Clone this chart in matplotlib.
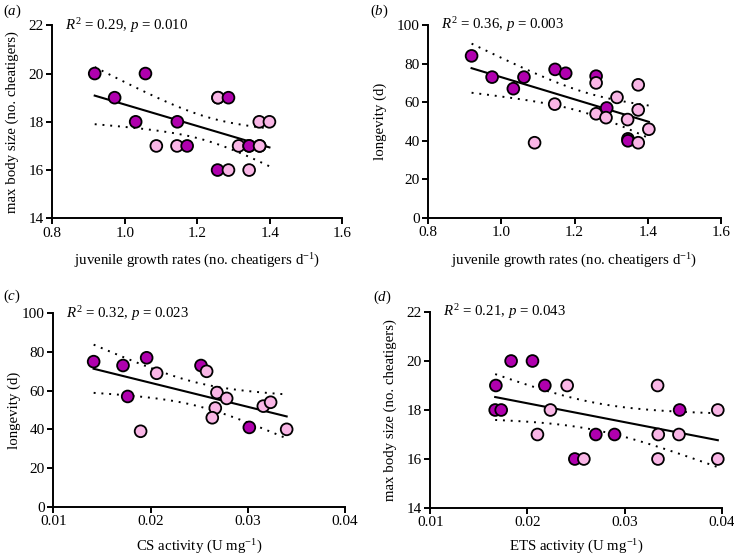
import numpy as np
import matplotlib
matplotlib.use("Agg")
import matplotlib.pyplot as plt

plt.rcParams['font.family'] = ['Liberation Serif', 'DejaVu Serif']
plt.rcParams['mathtext.fontset'] = 'custom'
plt.rcParams['mathtext.rm'] = 'Liberation Serif'
plt.rcParams['mathtext.it'] = 'Liberation Serif:italic'

DARK = '#B000AE'
LIGHT = '#F9B6E6'

# ---- data (1 = dark group, 0 = light group) ----
# (a) juvenile growth rate vs max body size
a_x = [0.917, 0.972, 1.030, 1.057, 1.087, 1.145, 1.144, 1.172, 1.257, 1.257, 1.286,
       1.256, 1.286, 1.314, 1.343, 1.343, 1.372, 1.372, 1.343, 1.371, 1.399]
a_y = [20, 19, 18, 20, 17, 18, 17, 17, 19, 19, 19,
       16, 16, 17, 17, 17, 17, 17, 16, 18, 18]
a_g = [1, 1, 1, 1, 0, 1, 0, 1, 0, 0, 1,
       1, 0, 0, 1, 1, 0, 0, 0, 0, 0]

# (b) juvenile growth rate vs longevity
b_x = [0.919, 0.975, 1.033, 1.062, 1.091, 1.147, 1.146, 1.176, 1.259, 1.259, 1.259,
       1.288, 1.286, 1.316, 1.345, 1.346, 1.346, 1.374, 1.374, 1.374, 1.403]
b_y = [84, 73, 67, 73, 39, 77, 59, 75, 73.5, 70, 54,
       57, 52, 62.5, 51, 41, 40, 69, 56, 39, 46]
b_g = [1, 1, 1, 1, 0, 1, 0, 1, 1, 0, 0,
       1, 0, 0, 0, 1, 1, 0, 0, 0, 0]

# (c) CS activity vs longevity
c_x = [0.01415, 0.01717, 0.01765, 0.0196, 0.01898, 0.02063, 0.02519, 0.02577,
       0.02683, 0.02783, 0.02666, 0.02635, 0.03016, 0.0316, 0.03235, 0.0340]
c_y = [75, 73, 57, 77, 39, 69, 73, 70, 59, 56, 51, 46, 41, 52, 54, 40]
c_g = [1, 1, 1, 1, 0, 0, 1, 0, 0, 0, 0, 0, 1, 0, 0, 0]

# (d) ETS activity vs max body size
d_x = [0.01675, 0.01668, 0.0173, 0.01832, 0.02052, 0.02179, 0.02103, 0.02237,
       0.02409, 0.02488, 0.02581, 0.02704, 0.02897, 0.0334, 0.03347, 0.03344,
       0.03567, 0.0356, 0.0396, 0.0396]
d_y = [19, 18, 18, 20, 20, 19, 17, 18, 19, 16, 16, 17, 17, 19, 17, 16, 18, 17, 18, 16]
d_g = [1, 1, 1, 1, 1, 1, 0, 0, 0, 1, 0, 1, 1, 0, 0, 0, 1, 0, 0, 0]

stats = ['$R^2$ = 0.29, $p$ = 0.010', '$R^2$ = 0.36, $p$ = 0.003',
         '$R^2$ = 0.32, $p$ = 0.023', '$R^2$ = 0.21, $p$ = 0.043']
panel_labels = ['($a$)', '($b$)', '($c$)', '($d$)']
xlabels = ['juvenile growth rates (no. cheatigers d$^{-1}$)',
           'juvenile growth rates (no. cheatigers d$^{-1}$)',
           'CS activity (U mg$^{-1}$)', 'ETS activity (U mg$^{-1}$)']
ylabels = ['max body size (no. cheatigers)', 'longevity (d)',
           'longevity (d)', 'max body size (no. cheatigers)']
xticks_g = [0.8, 1.0, 1.2, 1.4, 1.6]
xticks_e = [0.01, 0.02, 0.03, 0.04]
yticks_size = [14, 16, 18, 20, 22]
yticks_long = [0, 20, 40, 60, 80, 100]

T_CRIT = {14: 2.145, 18: 2.101, 19: 2.093, 20: 2.086}

W, H = 734, 555
fig = plt.figure(figsize=(W / 100, H / 100), dpi=100)

# axes boxes in pixels: left, right, top, bottom
boxes = [(52.3, 342.3, 25.3, 218.3), (428, 721, 25, 218),
         (53.3, 345, 313.3, 506.7), (430.3, 721.7, 312, 508)]
panel_pos = [(3, 11), (370, 11), (3, 296), (373, 297)]
ylab_x = [12, 380, 14, 390]      # pixel x of y-label centre
xlab_y = [261, 261, 547, 547]    # pixel y of x-label centre

datasets = [(a_x, a_y, a_g, xticks_g, yticks_size, '%.1f'),
            (b_x, b_y, b_g, xticks_g, yticks_long, '%.1f'),
            (c_x, c_y, c_g, xticks_e, yticks_long, '%.2f'),
            (d_x, d_y, d_g, xticks_e, yticks_size, '%.2f')]

FS_TICK = 11
FS_LAB = 10.7

for i, (xs, ys, gs, xt, yt, fmt) in enumerate(datasets):
    l, r, t_, b = boxes[i]
    ax = fig.add_axes([l / W, 1 - b / H, (r - l) / W, (b - t_) / H])
    x = np.array(xs, float); y = np.array(ys, float); g = np.array(gs)
    n = len(x)
    slope, icpt = np.polyfit(x, y, 1)
    xx = np.linspace(x.min(), x.max(), 100)
    yy = icpt + slope * xx
    resid = y - (icpt + slope * x)
    s = np.sqrt(np.sum(resid ** 2) / (n - 2))
    sxx = np.sum((x - x.mean()) ** 2)
    t = T_CRIT.get(n - 2, 2.1)
    hw = t * s * np.sqrt(1 / n + (xx - x.mean()) ** 2 / sxx)
    ax.plot(xx, yy, color='black', lw=1.5, zorder=2)
    ax.plot(xx, yy + hw, color='black', lw=1.4, ls=(0, (1, 3)), zorder=2)
    ax.plot(xx, yy - hw, color='black', lw=1.4, ls=(0, (1, 3)), zorder=2)
    cols = [DARK if v else LIGHT for v in g]
    ax.scatter(x, y, s=72, c=cols, edgecolors='black', linewidths=1.3,
               zorder=3, clip_on=False)
    ax.set_xlim(xt[0], xt[-1]); ax.set_ylim(yt[0], yt[-1])
    ax.set_xticks(xt); ax.set_yticks(yt)
    ax.set_xticklabels([fmt % v for v in xt])
    ax.set_yticklabels([str(v) for v in yt])
    for sp in ['top', 'right']:
        ax.spines[sp].set_visible(False)
    for sp in ['left', 'bottom']:
        ax.spines[sp].set_linewidth(1.4)
    ax.tick_params(direction='out', length=4, width=1.4, labelsize=FS_TICK, pad=2)
    ax.set_xlabel(xlabels[i], fontsize=FS_LAB, va='center')
    ax.set_ylabel(ylabels[i], fontsize=FS_LAB, va='center')
    ax.xaxis.set_label_coords(0.5, (b - xlab_y[i]) / (b - t_))
    ax.yaxis.set_label_coords((ylab_x[i] - l) / (r - l), 0.5)
    ax.text(0.045, 1.0, stats[i], transform=ax.transAxes, fontsize=FS_LAB,
            va='center', ha='left')
    px, py = panel_pos[i]
    fig.text(px / W, 1 - py / H, panel_labels[i], fontsize=FS_LAB, va='center', ha='left')

fig.savefig('out.png', dpi=100)
